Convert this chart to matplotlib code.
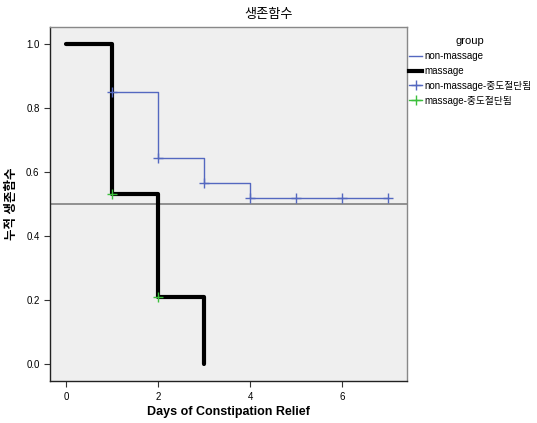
import matplotlib
matplotlib.use("Agg")
import matplotlib.pyplot as plt
from matplotlib.lines import Line2D
import numpy as np

plt.rcParams['font.family'] = ['Liberation Sans', 'Noto Sans CJK KR', 'DejaVu Sans']

# Data
nm_times = [0, 1, 2, 3, 4, 7]
nm_surv = [1.0, 0.85, 0.645, 0.565, 0.52, 0.52]
nm_cens_t = [1, 2, 3, 4, 5, 6, 7]
nm_cens_s = [0.85, 0.645, 0.565, 0.52, 0.52, 0.52, 0.52]

m_times = [0, 1, 2, 3]
m_surv = [1.0, 0.53, 0.21, 0.0]
m_cens_t = [1, 2]
m_cens_s = [0.53, 0.21]

ref_line = 0.5

xticks = [0, 2, 4, 6]
yticks = [0.0, 0.2, 0.4, 0.6, 0.8, 1.0]

blue = '#5468c0'
green = '#3cbf3c'

fig = plt.figure(figsize=(5.37, 4.23), dpi=100)
ax = fig.add_axes([0.093, 0.099, 0.665, 0.837])
ax.set_facecolor('#efefef')

ax.axhline(ref_line, color='#808080', lw=1.2, zorder=1)
ax.step(nm_times, nm_surv, where='post', color=blue, lw=1.0, zorder=2)
ax.step(m_times, m_surv, where='post', color='black', lw=3.0, zorder=3,
        solid_capstyle='round')
ax.plot(nm_cens_t, nm_cens_s, ls='none', marker='+', ms=7, mew=1.0, color=blue, zorder=4)
ax.plot(m_cens_t, m_cens_s, ls='none', marker='+', ms=7, mew=1.0, color=green, zorder=5)

ax.set_xlim(-0.35, 7.41)
ax.set_ylim(-0.053, 1.053)
ax.set_xticks(xticks)
ax.set_xticklabels([str(t) for t in xticks])
ax.set_yticks(yticks)
ax.set_yticklabels([f'{v:.1f}' for v in yticks])
ax.tick_params(labelsize=7, length=4, color='#333333')

for s in ['left', 'bottom']:
    ax.spines[s].set_color('#222222')
    ax.spines[s].set_linewidth(1.0)
for s in ['top', 'right']:
    ax.spines[s].set_color('#888888')
    ax.spines[s].set_linewidth(1.0)

ax.set_xlabel('Days of Constipation Relief', fontsize=9, fontweight='bold')
ax.xaxis.set_label_coords(0.5, -0.07)
ax.set_ylabel('누적 생존함수', fontsize=9, fontweight='bold')
ax.yaxis.set_label_coords(-0.09, 0.5)
fig.suptitle('생존함수', x=0.5, y=0.978, fontsize=9.5)

handles = [
    Line2D([], [], color=blue, lw=1.0),
    Line2D([], [], color='black', lw=3.0),
    Line2D([], [], color=blue, lw=1.0, marker='+', ms=7),
    Line2D([], [], color=green, lw=1.0, marker='+', ms=7),
]
labels = ['non-massage', 'massage', 'non-massage-중도절단됨', 'massage-중도절단됨']
leg = fig.legend(handles, labels, title='group', loc='upper left',
                 bbox_to_anchor=(0.755, 0.925), frameon=False, fontsize=7,
                 title_fontsize=8, handlelength=1.3, handletextpad=0.2,
                 labelspacing=0.5, borderaxespad=0)
leg._legend_box.sep = 4

fig.savefig('out.png', dpi=100)
